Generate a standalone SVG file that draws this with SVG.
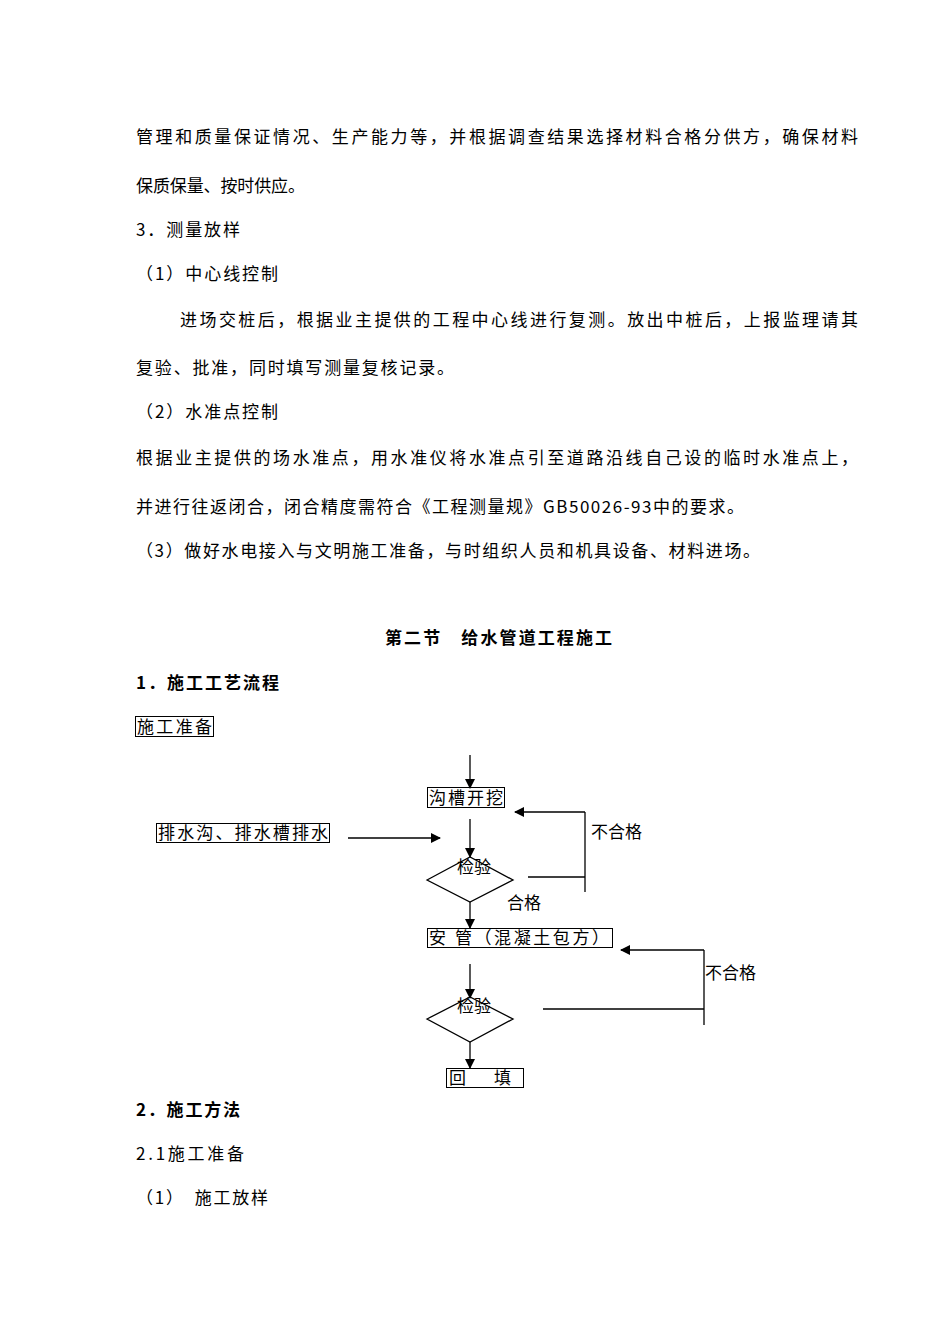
<svg xmlns="http://www.w3.org/2000/svg" width="950" height="1344" viewBox="0 0 950 1344">
<style>
text{font-family:"Noto Sans CJK SC","Noto Sans",sans-serif;font-size:17px;fill:#000}
.b{font-weight:bold}
.box{fill:none;stroke:#000;stroke-width:1}
.ln{fill:none;stroke:#000;stroke-width:1.3}
.ar{fill:none;stroke:#000;stroke-width:1.3;marker-end:url(#ah)}
</style>
<defs><marker id="ah" markerWidth="10" markerHeight="10" refX="9" refY="5" orient="auto" markerUnits="userSpaceOnUse"><path d="M0,0 L10,5 L0,10 Z" fill="#000"/></marker></defs>
<rect width="950" height="1344" fill="#fff"/>
<g id="body">
<text x="136" y="143" textLength="722" lengthAdjust="spacing">管理和质量保证情况、生产能力等，并根据调查结果选择材料合格分供方，确保材料</text>
<text x="136" y="192" textLength="169" lengthAdjust="spacing">保质保量、按时供应。</text>
<text x="136" y="236" textLength="104" lengthAdjust="spacing">3．测量放样</text>
<text x="136" y="280" textLength="142" lengthAdjust="spacing">（1）中心线控制</text>
<text x="180" y="326" textLength="678" lengthAdjust="spacing">进场交桩后，根据业主提供的工程中心线进行复测。放出中桩后，上报监理请其</text>
<text x="136" y="374" textLength="318" lengthAdjust="spacing">复验、批准，同时填写测量复核记录。</text>
<text x="136" y="418" textLength="142" lengthAdjust="spacing">（2）水准点控制</text>
<text x="136" y="464" textLength="722" lengthAdjust="spacing">根据业主提供的场水准点，用水准仪将水准点引至道路沿线自己设的临时水准点上，</text>
<text x="136" y="513" textLength="608" lengthAdjust="spacing">并进行往返闭合，闭合精度需符合《工程测量规》GB50026-93中的要求。</text>
<text x="136" y="557" textLength="624" lengthAdjust="spacing">（3）做好水电接入与文明施工准备，与时组织人员和机具设备、材料进场。</text>
<text class="b" x="385" y="644" textLength="227" lengthAdjust="spacing">第二节　给水管道工程施工</text>
<text class="b" x="136" y="689" textLength="143" lengthAdjust="spacing">1．施工工艺流程</text>
<text class="b" x="136" y="1116" textLength="104" lengthAdjust="spacing">2．施工方法</text>
<text x="136" y="1160" textLength="108" lengthAdjust="spacing">2.1施工准备</text>
<text x="136" y="1204" textLength="132" lengthAdjust="spacing">（1）　施工放样</text>
</g>
<g id="n-prep"><rect class="box" x="135.5" y="716.5" width="78" height="20"/><text x="137" y="733" textLength="75" lengthAdjust="spacing">施工准备</text></g>
<g id="n-dig"><rect class="box" x="427.5" y="787.5" width="77" height="20"/><text x="429" y="804" textLength="74" lengthAdjust="spacing">沟槽开挖</text></g>
<g id="n-drain"><rect class="box" x="156.5" y="823.5" width="173" height="19"/><text x="158" y="839" textLength="170" lengthAdjust="spacing">排水沟、排水槽排水</text></g>
<g id="n-check1"><path class="ln" d="M427,880 L470,857 L513,880 L470,902 Z"/><text x="457" y="873">检验</text></g>
<g id="n-pipe"><rect class="box" x="427.5" y="928.5" width="185" height="19"/><text x="429" y="944" textLength="180" lengthAdjust="spacing">安 管（混凝土包方）</text></g>
<g id="n-check2"><path class="ln" d="M427,1019 L470,997 L513,1019 L470,1042 Z"/><text x="457" y="1012">检验</text></g>
<g id="n-fill"><rect class="box" x="446.5" y="1068.5" width="77" height="19"/><text x="449" y="1084">回</text><text x="494" y="1084">填</text></g>
<g id="connectors">
<path class="ar" d="M470,755 V788"/>
<path class="ar" d="M470,819 V857"/>
<path class="ar" d="M348,838 H440"/>
<path class="ar" d="M470,902 V928"/>
<path class="ar" d="M470,964 V998"/>
<path class="ar" d="M470,1042 V1068"/>
<path class="ln" d="M528,877 H585"/>
<path class="ln" d="M585,892 V812"/>
<path class="ar" d="M585,812 H515"/>
<path class="ln" d="M543,1009 H704"/>
<path class="ln" d="M704,1025 V950"/>
<path class="ar" d="M704,950 H621"/>
<text x="591" y="838">不合格</text>
<text x="507" y="909">合格</text>
<text x="705" y="979">不合格</text>
</g>
</svg>
